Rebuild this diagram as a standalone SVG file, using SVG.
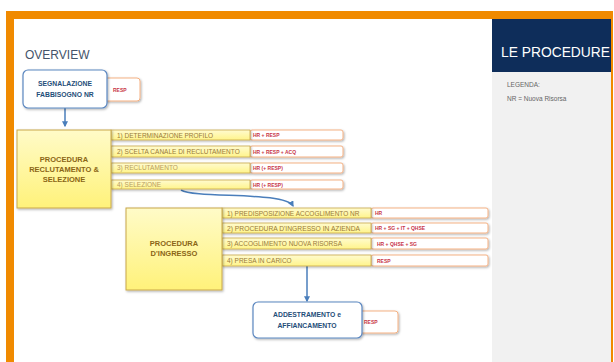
<svg xmlns="http://www.w3.org/2000/svg" width="614" height="362" viewBox="0 0 614 362">
<style>
.t{font-family:"Liberation Sans",Arial,sans-serif}
.ttl{font-size:12px;fill:#44546a}
.nav{font-size:6.8px;font-weight:bold;fill:#1f4e79;text-anchor:middle}
.big{font-size:7.5px;font-weight:bold;fill:#8a6516;text-anchor:middle}
.row{font-size:6.5px;fill:#9a7a3a}
.rowl{font-size:6.5px;fill:#b89c60}
.rsp{font-size:5px;font-weight:bold;fill:#c8364a}
.ybox{fill:url(#yg);stroke:#c9a84a;stroke-width:1;filter:url(#sh)}
.yrow{fill:url(#yr);stroke:#c9a84a;stroke-width:0.8;filter:url(#sh)}
.rbox{fill:#fff;stroke:#f4b183;stroke-width:1;filter:url(#sh)}
.bbox{fill:#fff;stroke:#5b87c0;stroke-width:1.2;filter:url(#sh)}
.con{fill:none;stroke:#4a7ebb;stroke-width:1.5}
</style>
<defs>
<linearGradient id="yg" x1="0" y1="0" x2="0" y2="1">
<stop offset="0" stop-color="#fffbc8"/>
<stop offset="1" stop-color="#fff27a"/>
</linearGradient>
<linearGradient id="yr" x1="0" y1="0" x2="0" y2="1">
<stop offset="0" stop-color="#fffbd0"/>
<stop offset="1" stop-color="#fff48a"/>
</linearGradient>
<filter id="sh" x="-10%" y="-20%" width="130%" height="160%">
<feDropShadow dx="1" dy="1.2" stdDeviation="0.9" flood-color="#000" flood-opacity="0.3"/>
</filter>
<marker id="ar" viewBox="0 0 10 10" refX="8" refY="5" markerWidth="4" markerHeight="4" orient="auto">
<path d="M0,0 L10,5 L0,10 z" fill="#4a7ebb"/>
</marker>
</defs>
<rect x="0" y="0" width="614" height="362" fill="#fff"/>
<rect x="6" y="11" width="607" height="8" fill="#f08a00"/>
<rect x="6" y="11" width="8" height="351" fill="#f08a00"/>
<rect x="611" y="11" width="2" height="351" fill="#f08a00"/>
<g id="panel">
<rect x="492" y="72" width="119" height="290" fill="#f1f1f1"/>
<rect x="492" y="19" width="119" height="53" fill="#0e2d5a"/>
<text class="t" x="501" y="57" font-size="14" fill="#fff" textLength="109" lengthAdjust="spacingAndGlyphs">LE PROCEDURE</text>
<text class="t" x="507" y="87" font-size="6.5" fill="#666">LEGENDA:</text>
<text class="t" x="507" y="101" font-size="6.5" fill="#666">NR = Nuova Risorsa</text>
</g>
<text class="t ttl" x="25" y="59">OVERVIEW</text>
<g id="connectors">
<path class="con" d="M65,108 V126" marker-end="url(#ar)"/>
<path class="con" d="M181,190 C195,199 285,191 293,206" marker-end="url(#ar)"/>
<path class="con" d="M307,266 V301" marker-end="url(#ar)"/>
</g>
<g id="segnalazione">
<rect class="rbox" x="104" y="78" width="36" height="23" rx="3"/>
<text class="t rsp" x="113" y="91.5">RESP</text>
<rect class="bbox" x="23" y="70" width="84" height="38" rx="5"/>
<text class="t nav" x="65" y="86">SEGNALAZIONE</text>
<text class="t nav" x="65" y="97">FABBISOGNO NR</text>
</g>
<g id="reclutamento">
<rect class="rbox" x="250" y="130" width="93" height="10" rx="2"/>
<rect class="rbox" x="250" y="146" width="93" height="11" rx="2"/>
<rect class="rbox" x="250" y="163" width="93" height="10" rx="2"/>
<rect class="rbox" x="250" y="180" width="93" height="9" rx="2"/>
<rect class="yrow" x="111" y="130" width="139" height="10"/>
<rect class="yrow" x="111" y="146" width="139" height="11"/>
<rect class="yrow" x="111" y="163" width="139" height="10"/>
<rect class="yrow" x="111" y="180" width="139" height="9"/>
<rect class="ybox" x="17" y="130" width="94" height="78"/>
<text class="t big" x="64" y="162">PROCEDURA</text>
<text class="t big" x="64" y="172">RECLUTAMENTO &amp;</text>
<text class="t big" x="64" y="182">SELEZIONE</text>
<text class="t row" x="117" y="137.5">1) DETERMINAZIONE PROFILO</text>
<text class="t row" x="117" y="154">2) SCELTA CANALE DI RECLUTAMENTO</text>
<text class="t rowl" x="117" y="170">3) RECLUTAMENTO</text>
<text class="t rowl" x="117" y="186.5">4) SELEZIONE</text>
<text class="t rsp" x="253" y="137">HR + RESP</text>
<text class="t rsp" x="253" y="153.5">HR + RESP + ACQ</text>
<text class="t rsp" x="253" y="170">HR (+ RESP)</text>
<text class="t rsp" x="253" y="186.5">HR (+ RESP)</text>
</g>
<g id="ingresso">
<rect class="rbox" x="371" y="208" width="117" height="10" rx="2"/>
<rect class="rbox" x="371" y="223" width="117" height="10" rx="2"/>
<rect class="rbox" x="371" y="238" width="117" height="11" rx="2"/>
<rect class="rbox" x="371" y="255" width="117" height="11" rx="2"/>
<rect class="yrow" x="222" y="208" width="149" height="10"/>
<rect class="yrow" x="222" y="223" width="149" height="10"/>
<rect class="yrow" x="222" y="238" width="149" height="11"/>
<rect class="yrow" x="222" y="255" width="149" height="11"/>
<rect class="ybox" x="126" y="208" width="96" height="82"/>
<text class="t big" x="174" y="246">PROCEDURA</text>
<text class="t big" x="174" y="256">D'INGRESSO</text>
<text class="t row" x="227" y="215.5">1) PREDISPOSIZIONE ACCOGLIMENTO NR</text>
<text class="t row" x="227" y="230.5" textLength="133" lengthAdjust="spacingAndGlyphs">2) PROCEDURA D'INGRESSO IN AZIENDA</text>
<text class="t row" x="227" y="246">3) ACCOGLIMENTO NUOVA RISORSA</text>
<text class="t row" x="227" y="263">4) PRESA IN CARICO</text>
<text class="t rsp" x="375" y="215">HR</text>
<text class="t rsp" x="375" y="230">HR + SG + IT + QHSE</text>
<text class="t rsp" x="377" y="245.5">HR + QHSE + SG</text>
<text class="t rsp" x="377" y="262.5">RESP</text>
</g>
<g id="addestramento">
<rect class="rbox" x="358" y="311" width="40" height="22" rx="3"/>
<text class="t rsp" x="364" y="324">RESP</text>
<rect class="bbox" x="253" y="302" width="109" height="36" rx="5"/>
<text class="t nav" x="307" y="317" font-size="7">ADDESTRAMENTO e</text>
<text class="t nav" x="307" y="328" font-size="7">AFFIANCAMENTO</text>
</g>
</svg>
